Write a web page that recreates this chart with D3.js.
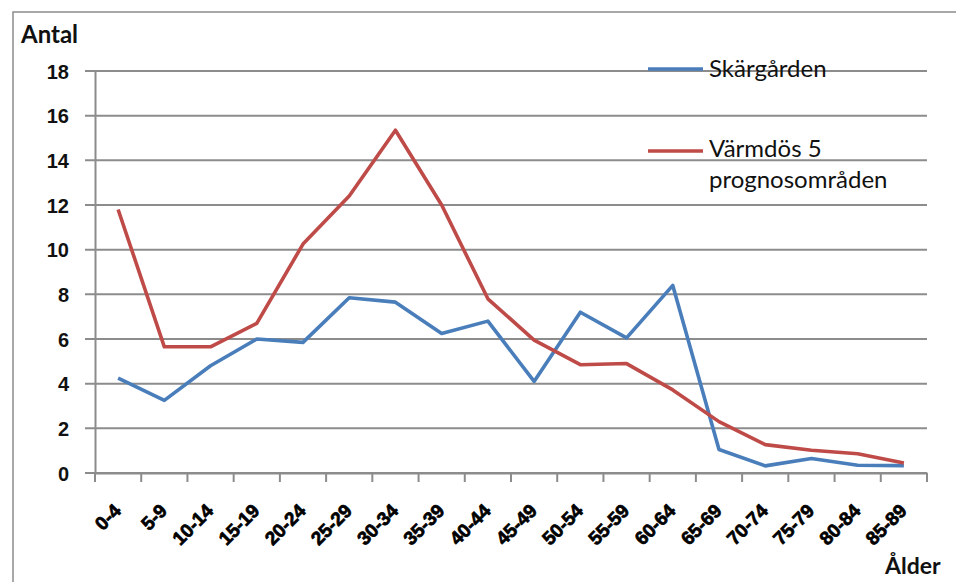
<!DOCTYPE html>
<html>
<head>
<meta charset="utf-8">
<script src="https://cdn.jsdelivr.net/npm/d3@7"></script>
<style>
  body { margin: 0; background: #fff; }
  svg { display: block; font-family: Lato, "Open Sans", sans-serif; }
</style>
</head>
<body>
<svg id="chart" width="956" height="582"></svg>
<script>
// age groups
const categories = ["0-4", "5-9", "10-14", "15-19", "20-24", "25-29", "30-34", "35-39", "40-44",
    "45-49", "50-54", "55-59", "60-64", "65-69", "70-74", "75-79", "80-84", "85-89"];

// Skärgården
const skargarden = [4.25, 3.25, 4.8, 6.0, 5.85, 7.85, 7.65, 6.25, 6.8,
    4.1, 7.2, 6.05, 8.4, 1.05, 0.32, 0.65, 0.35, 0.33];

// Värmdös 5 prognosområden
const varmdo = [11.8, 5.65, 5.65, 6.7, 10.25, 12.4, 15.35, 12.0, 7.8,
    5.95, 4.85, 4.9, 3.72, 2.3, 1.27, 1.02, 0.86, 0.45];

const yTicks = [0, 2, 4, 6, 8, 10, 12, 14, 16, 18];

const seriesNames = ["Skärgården", "Värmdös 5 prognosområden"];
const colors = ["#4a7ebb", "#be4b48"];

const svg = d3.select("#chart");
const mLeft = 95, mRight = 927, mTop = 71, mBottom = 473;

// outer frame
svg.append("rect")
    .attr("x", 13).attr("y", 12)
    .attr("width", 960).attr("height", 600)
    .attr("fill", "none")
    .attr("stroke", "#8c8c8c")
    .attr("stroke-width", 1.5);

const x = d3.scaleBand().domain(categories).range([mLeft, mRight]);
const y = d3.scaleLinear().domain([0, 18]).range([mBottom, mTop]);

// gridlines
svg.append("g")
    .selectAll("line")
    .data(yTicks)
    .join("line")
    .attr("x1", mLeft - 10).attr("x2", mRight)
    .attr("y1", d => y(d)).attr("y2", d => y(d))
    .attr("stroke", "#8c8c8c")
    .attr("stroke-width", 2);

// y axis
const yAxis = svg.append("g")
    .attr("transform", `translate(${mLeft},0)`)
    .call(d3.axisLeft(y).tickValues(yTicks).tickSize(0).tickPadding(26));
yAxis.select(".domain").attr("stroke", "#8c8c8c").attr("stroke-width", 2);
yAxis.selectAll("text")
    .attr("font-size", 20).attr("font-weight", "bold").attr("fill", "#111")
    .attr("dy", "0.36em");

// x axis
const xAxis = svg.append("g")
    .attr("transform", `translate(0,${mBottom})`)
    .call(d3.axisBottom(x).tickSize(0));
xAxis.select(".domain").attr("stroke", "#8c8c8c").attr("stroke-width", 2);
xAxis.selectAll(".tick text")
    .attr("font-size", 19).attr("font-weight", "900").attr("fill", "#000")
    .attr("stroke", "#000").attr("stroke-width", 0.7)
    .attr("text-anchor", "end")
    .attr("x", 0).attr("y", 0).attr("dy", 0)
    .attr("transform", "translate(4,39) rotate(-45)");

// tick marks between categories
svg.append("g")
    .selectAll("line")
    .data(categories.concat([null]))
    .join("line")
    .attr("x1", (d, i) => mLeft + i * x.step())
    .attr("x2", (d, i) => mLeft + i * x.step())
    .attr("y1", mBottom).attr("y2", mBottom + 9)
    .attr("stroke", "#8c8c8c")
    .attr("stroke-width", 2);

// lines
const line = d3.line()
    .x((d, i) => x(categories[i]) + x.bandwidth() / 2)
    .y(d => y(d));

[skargarden, varmdo].forEach((s, k) => {
    svg.append("path")
        .datum(s)
        .attr("d", line)
        .attr("fill", "none")
        .attr("stroke", colors[k])
        .attr("stroke-width", 3.6)
        .attr("stroke-linejoin", "round");
});

// axis titles
svg.append("text").attr("x", 21).attr("y", 43)
    .attr("font-size", 24).attr("font-weight", "bold").attr("fill", "#111")
    .text("Antal");
svg.append("text").attr("x", 885).attr("y", 574)
    .attr("font-size", 23).attr("font-weight", "bold").attr("fill", "#111")
    .text("Ålder");

// legend
const legend = svg.append("g");
legend.append("line").attr("x1", 648).attr("x2", 703).attr("y1", 69).attr("y2", 69)
    .attr("stroke", colors[0]).attr("stroke-width", 3.6);
legend.append("text").attr("x", 709).attr("y", 77)
    .attr("font-size", 24).attr("fill", "#111").text(seriesNames[0]);
legend.append("line").attr("x1", 648).attr("x2", 703).attr("y1", 151).attr("y2", 151)
    .attr("stroke", colors[1]).attr("stroke-width", 3.6);
legend.append("text").attr("x", 709).attr("y", 157)
    .attr("font-size", 24).attr("fill", "#111").text("Värmdös 5");
legend.append("text").attr("x", 709).attr("y", 188)
    .attr("font-size", 24).attr("fill", "#111").text("prognosområden");
</script>
</body>
</html>
